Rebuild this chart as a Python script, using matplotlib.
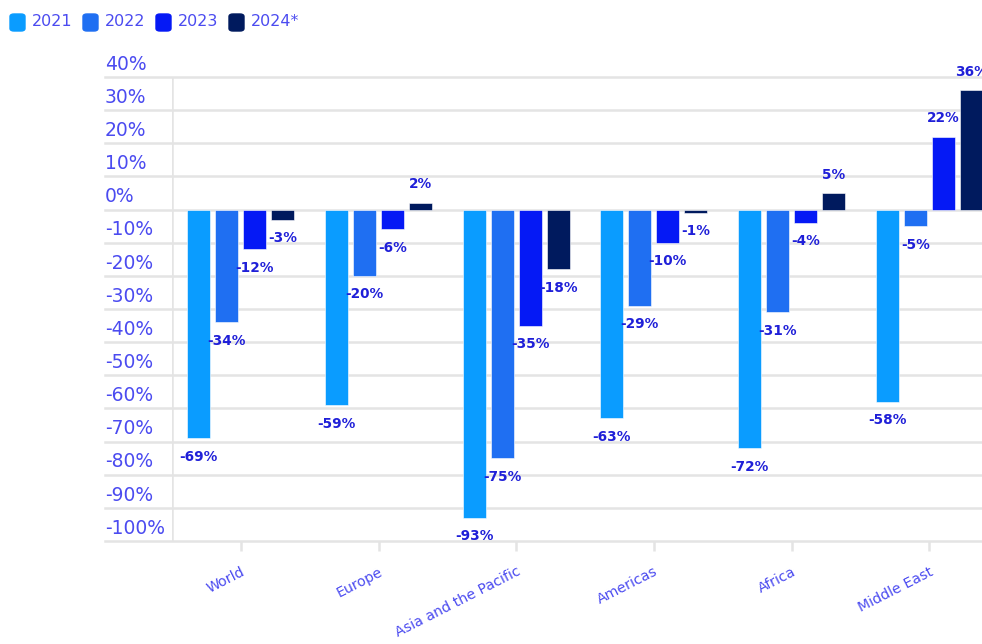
import numpy as np
import matplotlib
matplotlib.use('Agg')
import matplotlib.pyplot as plt
import matplotlib.transforms as mtransforms
from matplotlib.patches import FancyBboxPatch

regions = ['World', 'Europe', 'Asia and the Pacific', 'Americas', 'Africa', 'Middle East']
years = ['2021', '2022', '2023', '2024*']
v2021 = [-69, -59, -93, -63, -72, -58]
v2022 = [-34, -20, -75, -29, -31, -5]
v2023 = [-12, -6, -35, -10, -4, 22]
v2024 = [-3, 2, -18, -1, 5, 36]
yticks = list(range(-100, 41, 10))

colors = ['#0a9cff', '#1f6ff2', '#0519f5', '#001a5e']
grid_c = '#e4e4e4'
tick_c = '#4b4bf0'
lab_c = '#1f1fd8'

fig = plt.figure(figsize=(9.82, 6.44), dpi=100)
ax = fig.add_axes([172/982, 1 - 541/644, 826/982, 464/644])

x = np.arange(len(regions))
w = 23 / 137.8
step = 28 / 137.8
series = [v2021, v2022, v2023, v2024]
for i, vals in enumerate(series):
    pos = x + (i - 1.5) * step
    ax.bar(pos, vals, width=w, color=colors[i], edgecolor='white',
           linewidth=0.4, zorder=3)
    for xp, v in zip(pos, vals):
        off = 13.3 if v > 0 else -13.3
        ax.annotate(f'{v}%', (xp, v), xytext=(0, off), textcoords='offset points',
                    ha='center', va='center', fontsize=9.8, fontweight='bold',
                    color=lab_c, zorder=4, annotation_clip=False)

ax.set_xlim(-0.5, len(regions) - 0.5)
ax.set_ylim(-100, 40)

# gridlines reaching under the tick labels
trans = mtransforms.blended_transform_factory(ax.transAxes, ax.transData)
left_ext = -(172 - 105) / 826
for t in yticks:
    ax.plot([left_ext, 1], [t, t], color=grid_c, lw=1.8, transform=trans,
            clip_on=False, zorder=1)
    ax.text(left_ext, t + 1.0, f'{t}%', transform=trans, ha='left', va='bottom',
            fontsize=13.5, color=tick_c)
ax.axvline(-0.5, color=grid_c, lw=1.8, zorder=1)

for s in ax.spines.values():
    s.set_visible(False)
ax.set_yticks([])
ax.set_xticks(x)
ax.set_xticklabels(regions, rotation=27, ha='right', rotation_mode='anchor',
                   fontsize=10.2, color=tick_c)
ax.tick_params(axis='x', length=7, width=1.8, color=grid_c, pad=10)

# legend
lx = 10
for c, lab in zip(colors, years):
    fig.patches.append(FancyBboxPatch((lx / 982, 1 - 31 / 644), 15 / 982, 17 / 644,
                                      boxstyle='round,pad=0,rounding_size=0.004',
                                      transform=fig.transFigure, color=c))
    fig.text((lx + 22) / 982, 1 - 22 / 644, lab, ha='left', va='center',
             fontsize=11.5, color=tick_c)
    lx += 73

fig.savefig('out.png', dpi=100)
